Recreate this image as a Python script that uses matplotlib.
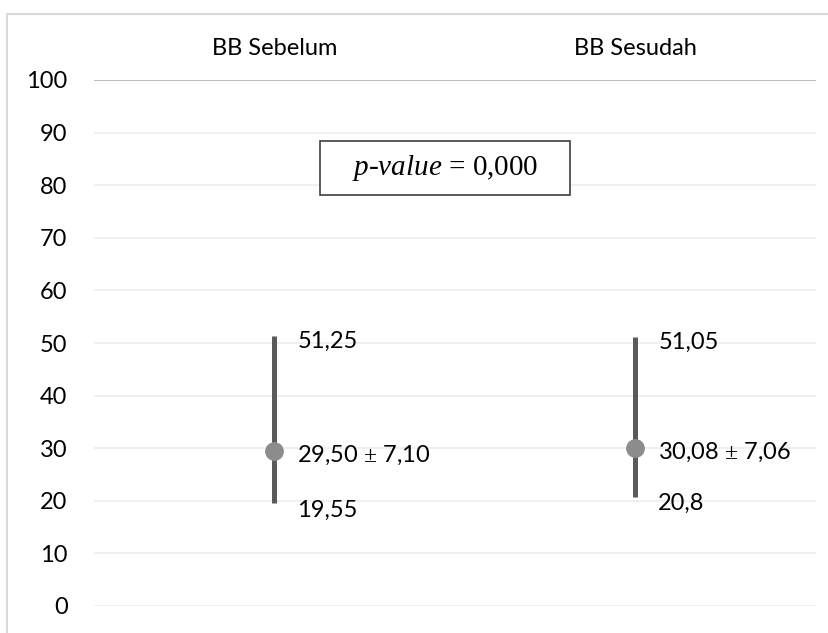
import matplotlib
matplotlib.use("Agg")
import matplotlib.pyplot as plt
from matplotlib.patches import Rectangle

plt.rcParams["mathtext.fontset"] = "custom"
plt.rcParams["mathtext.rm"] = "Liberation Serif"
plt.rcParams["mathtext.it"] = "Liberation Serif:italic"

categories = ["BB Sebelum", "BB Sesudah"]
highs = [51.25, 51.05]
lows = [19.55, 20.8]
means = [29.50, 30.08]
sds = [7.10, 7.06]
high_labels = ["51,25", "51,05"]
low_labels = ["19,55", "20,8"]
mean_labels = ["29,50", "30,08"]
sd_labels = ["7,10", "7,06"]
yticks = list(range(0, 101, 10))

FONT = "Lato"
FS = 17

fig = plt.figure(figsize=(8.29, 6.33), dpi=100)
# chart-area frame
fig.patches.append(Rectangle((7 / 829, -0.1), 1.2, (633 - 14) / 633 + 0.1,
                             transform=fig.transFigure, fill=False,
                             edgecolor="#d9d9d9", linewidth=1.5))

ax = fig.add_axes([94 / 829, (633 - 606) / 633, (816 - 94) / 829, (606 - 80) / 633])
ax.set_xlim(0, 2)
ax.set_ylim(0, 100)

for y in yticks:
    ax.axhline(y, color="#bfbfbf" if y == 100 else "#efefef",
               linewidth=1.5 if y == 100 else 1.3, zorder=0)

xs = [0.5, 1.5]
for x, hi, lo, m, hl, ll, ml, sl in zip(xs, highs, lows, means, high_labels,
                                         low_labels, mean_labels, sd_labels):
    ax.plot([x, x], [lo, hi], color="#5a5a5a", linewidth=3.6, solid_capstyle="butt", zorder=2)
    ax.plot([x], [m], "o", color="#8c8c8c", markersize=12.5, zorder=3)
    ax.text(x + 0.063, hi - 1.0, hl, fontsize=FS, family=FONT, va="center", ha="left")
    ax.text(x + 0.063, lo - 1.3, ll, fontsize=FS, family=FONT, va="center", ha="left")
    ax.text(x + 0.063, m - 0.8, f"{ml}$\\,\\pm\\,${sl}", fontsize=FS, family=FONT,
            va="center", ha="left")

ax.set_yticks(yticks)
ax.set_yticklabels([str(v) for v in yticks], fontsize=FS, family=FONT)
ax.tick_params(axis="y", length=0, pad=19)
ax.set_xticks(xs)
ax.set_xticklabels(categories, fontsize=FS, family=FONT)
ax.xaxis.tick_top()
ax.tick_params(axis="x", length=0, pad=15)
for s in ax.spines.values():
    s.set_visible(False)

# p-value annotation box
ax.add_patch(Rectangle((0.626, 78.1), 0.693, 10.3, facecolor="white",
                       edgecolor="#404040", linewidth=1.2, zorder=4))
ax.text(0.972, 83.3, "$p$-$value$ = 0,000", fontsize=21, family="Liberation Serif",
        ha="center", va="center", zorder=5)

fig.savefig("out.png", dpi=100)
